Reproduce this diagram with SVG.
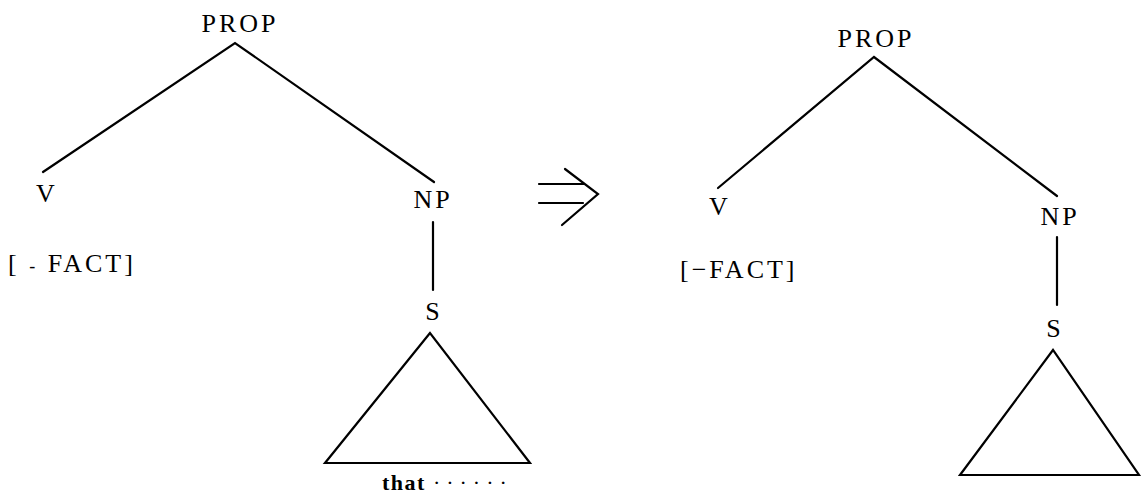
<svg xmlns="http://www.w3.org/2000/svg" width="1143" height="495" viewBox="0 0 1143 495">
<style>
.t{font-family:"Liberation Serif","Times New Roman",serif;font-size:26px;fill:#000;letter-spacing:3px}
.e{stroke:#000;stroke-width:2.2;fill:none;stroke-linecap:round;stroke-linejoin:miter}
</style>
<rect width="1143" height="495" fill="#fff"/>
<g id="left-PROP"><text class="t" x="240" y="32" text-anchor="middle">PROP</text></g>
<g id="left-V"><text class="t" x="47" y="202" text-anchor="middle">V</text></g>
<g id="left-FACT"><text class="t" x="8" y="272">[  <tspan style="font-size:18px">-</tspan> FACT]</text></g>
<g id="left-NP"><text class="t" x="433" y="208" text-anchor="middle">NP</text></g>
<g id="left-S"><text class="t" x="434" y="320" text-anchor="middle">S</text></g>
<g id="left-tri"><polygon class="e" points="430,333 325,463 530,463"/><text class="t" x="382" y="490" style="font-size:22px;font-weight:bold;letter-spacing:1.5px">that <tspan style="letter-spacing:6px;font-weight:normal">······</tspan></text></g>
<g id="right-PROP"><text class="t" x="876" y="47" text-anchor="middle">PROP</text></g>
<g id="right-V"><text class="t" x="720" y="215" text-anchor="middle">V</text></g>
<g id="right-FACT"><text class="t" x="680" y="278">[−FACT]</text></g>
<g id="right-NP"><text class="t" x="1060" y="225" text-anchor="middle">NP</text></g>
<g id="right-S"><text class="t" x="1055" y="337" text-anchor="middle">S</text></g>
<g id="right-tri"><polygon class="e" points="1053,350 960,475 1139,475"/></g>
<g id="connectors">
<path class="e" d="M43,172 L235,43 L434,182"/>
<path class="e" d="M433,222 L433,290"/>
<path class="e" d="M718,188 L874,57 L1057,196"/>
<path class="e" d="M1057,237 L1057,305"/>
</g>
<g id="arrow">
<path class="e" stroke-width="2.5" d="M539,184 L583,184 M539,203 L583,203 M565,169 L598,194 L562,225"/>
</g>
</svg>
